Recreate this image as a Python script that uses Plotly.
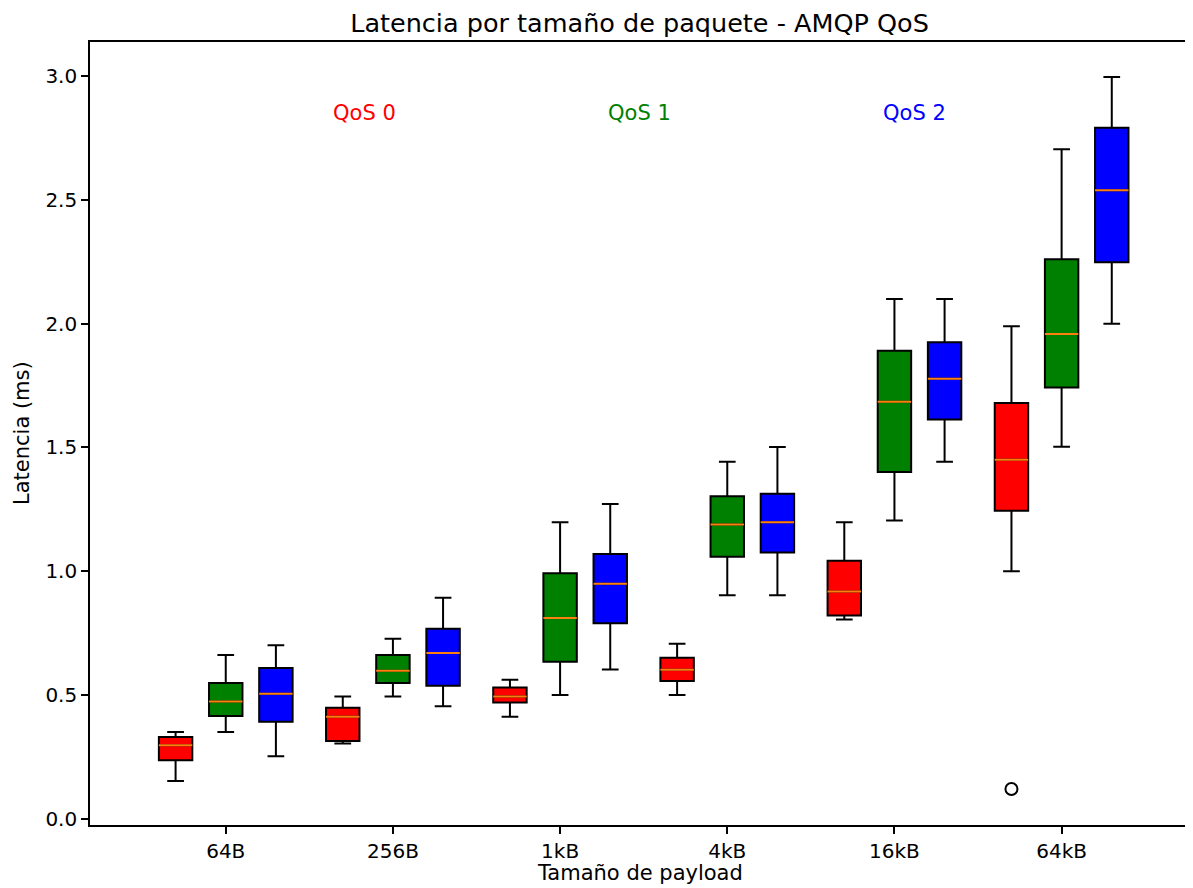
import plotly.graph_objects as go

# ---- data ----
groups = ["64B", "256B", "1kB", "4kB", "16kB", "64kB"]
qos_names = ["QoS 0", "QoS 1", "QoS 2"]
qos_colors = ["red", "green", "blue"]

q0_low  = [0.152, 0.304, 0.412, 0.500, 0.805, 1.000]
q0_q1   = [0.236, 0.314, 0.470, 0.556, 0.821, 1.244]
q0_med  = [0.297, 0.412, 0.494, 0.602, 0.918, 1.450]
q0_q3   = [0.330, 0.448, 0.530, 0.650, 1.042, 1.680]
q0_high = [0.350, 0.494, 0.561, 0.707, 1.198, 1.990]

q1_low  = [0.350, 0.494, 0.500, 0.903, 1.205, 1.503]
q1_q1   = [0.415, 0.548, 0.634, 1.058, 1.401, 1.742]
q1_med  = [0.474, 0.598, 0.811, 1.189, 1.685, 1.958]
q1_q3   = [0.548, 0.661, 0.992, 1.303, 1.891, 2.260]
q1_high = [0.661, 0.727, 1.198, 1.442, 2.100, 2.705]

q2_low  = [0.252, 0.454, 0.603, 0.903, 1.442, 2.000]
q2_q1   = [0.392, 0.537, 0.790, 1.076, 1.613, 2.248]
q2_med  = [0.505, 0.670, 0.949, 1.198, 1.778, 2.539]
q2_q3   = [0.609, 0.767, 1.069, 1.313, 1.925, 2.792]
q2_high = [0.701, 0.893, 1.271, 1.502, 2.100, 2.997]

# outliers: (qos index, group index, value)
outlier_qos = [0]
outlier_group = [5]
outlier_value = [0.120]

stats = [
    (q0_low, q0_q1, q0_med, q0_q3, q0_high),
    (q1_low, q1_q1, q1_med, q1_q3, q1_high),
    (q2_low, q2_q1, q2_med, q2_q3, q2_high),
]

OFFSET = 0.3
BOXW = 0.2
FONT = "DejaVu Sans"

fig = go.Figure()

for k, (low, q1, med, q3, high) in enumerate(stats):
    xs = [g + (k - 1) * OFFSET for g in range(len(groups))]
    fig.add_trace(go.Box(
        x=xs, q1=q1, median=med, q3=q3, lowerfence=low, upperfence=high,
        width=BOXW, fillcolor=qos_colors[k],
        line=dict(color="black", width=2),
        whiskerwidth=0.5, boxpoints=False, showlegend=False,
        hoverinfo="skip",
    ))

# orange medians
for k, (low, q1, med, q3, high) in enumerate(stats):
    mx, my = [], []
    for g in range(len(groups)):
        c = g + (k - 1) * OFFSET
        mx += [c - BOXW / 2, c + BOXW / 2, None]
        my += [med[g], med[g], None]
    fig.add_trace(go.Scatter(x=mx, y=my, mode="lines",
                             line=dict(color="#ff7f0e", width=2),
                             showlegend=False, hoverinfo="skip"))

# outliers
fig.add_trace(go.Scatter(
    x=[g + (k - 1) * OFFSET for k, g in zip(outlier_qos, outlier_group)],
    y=outlier_value, mode="markers",
    marker=dict(symbol="circle-open", size=12, color="black", line=dict(width=2, color="black")),
    showlegend=False, hoverinfo="skip"))

# QoS labels
for k, name in enumerate(qos_names):
    fig.add_annotation(x=0.25 * (k + 1), y=0.9094, xref="paper", yref="paper",
                       text=name, showarrow=False, xanchor="center", yanchor="middle",
                       font=dict(family=FONT, size=21, color=qos_colors[k]))

# axis labels
fig.add_annotation(x=0.5, y=-0.0615, xref="paper", yref="paper", text="Tamaño de payload",
                   showarrow=False, xanchor="center", yanchor="middle",
                   font=dict(family=FONT, size=21, color="black"))
fig.add_annotation(x=-0.0623, y=0.5, xref="paper", yref="paper", text="Latencia (ms)",
                   showarrow=False, xanchor="center", yanchor="middle", textangle=-90,
                   font=dict(family=FONT, size=21, color="black"))

axis_common = dict(showline=True, mirror=True, linecolor="black", linewidth=1.6,
                   ticks="outside", ticklen=7, tickwidth=1.6, tickcolor="black",
                   showgrid=False, zeroline=False,
                   tickfont=dict(family=FONT, size=20, color="black"))

# page has an 8px body margin: figure is placed at (8, 8) in the window
fig.update_layout(
    width=1185, height=880,
    margin=dict(l=82, r=2, t=34, b=63),
    paper_bgcolor="white", plot_bgcolor="white",
    title=dict(text="Latencia por tamaño de paquete - AMQP QoS", x=0.5, xref="paper",
               y=1 - 15 / 880, yref="container", xanchor="center", yanchor="middle",
               font=dict(family=FONT, size=25.5, color="black")),
    xaxis=dict(range=[-0.812, 5.762], tickmode="array", tickvals=list(range(len(groups))),
               ticktext=groups, **axis_common),
    yaxis=dict(range=[-0.0254, 3.138], tickmode="linear", tick0=0, dtick=0.5,
               tickformat=".1f", **axis_common),
    boxmode="overlay",
)

fig.write_html("out.html")
